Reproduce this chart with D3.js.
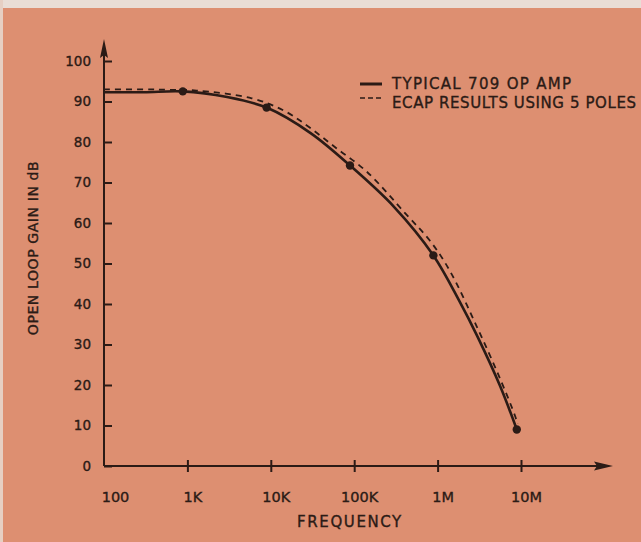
<!DOCTYPE html>
<html><head><meta charset="utf-8">
<script src="https://cdn.jsdelivr.net/npm/d3@7"></script>
<style>html,body{margin:0;padding:0;background:#dc8e70;}svg{display:block;}text{stroke:#2b1b16;stroke-width:0.35px;}</style>
</head><body>
<svg id="c" width="641" height="542"></svg>
<script>
// ---- data ----
const tickFreqs = [100, 1e3, 1e4, 1e5, 1e6, 1e7];
const tickLabels = ["100", "1K", "10K", "100K", "1M", "10M"];
const gainTicks = [0, 10, 20, 30, 40, 50, 60, 70, 80, 90, 100];

// Typical 709 op amp (solid)
const typicalFreq = [100, 300, 880, 3000, 8900, 30000, 89000, 300000, 890000, 1860000, 3000000, 5600000, 8900000];
const typicalGain = [92.3, 92.3, 92.5, 91.1, 88.5, 82.2, 74.2, 64.0, 52.0, 40.4, 32.0, 19.8, 9.0];

// ECAP results using 5 poles (dashed)
const ecapFreq = [100, 300, 600, 1290, 5900, 14800, 29500, 61700, 141000, 426000, 811000, 1410000, 2940000, 5600000, 8470000, 9080000];
const ecapGain = [93.0, 93.0, 92.9, 92.7, 90.8, 87.6, 83.5, 78.4, 72.7, 62.0, 55.6, 48.1, 34.5, 21.6, 12.4, 10.4];

// marked points on the typical curve
const dotFreq = [880, 8900, 89000, 890000, 8900000];
const dotGain = [92.5, 88.5, 74.2, 52.0, 9.0];

const legendLabels = ["TYPICAL 709 OP AMP", "ECAP RESULTS USING 5 POLES"];

// ---- drawing ----
const ink = "#2b1b16";
const font = "DejaVu Sans, sans-serif";
const svg = d3.select("#c");
svg.append("rect").attr("width", 641).attr("height", 542).attr("fill", "#dd8f71");
svg.append("rect").attr("width", 641).attr("height", 8).attr("fill", "#e9ddd5");
svg.append("rect").attr("width", 3).attr("height", 542).attr("fill", "#e6cfc3");

const x = d3.scaleLog().domain([100, 1e7]).range([104, 521]);
const y = d3.scaleLinear().domain([0, 100]).range([466, 61]);

// axes lines with arrows
svg.append("line").attr("x1", x(100)).attr("x2", 604).attr("y1", y(0)).attr("y2", y(0))
  .attr("stroke", ink).attr("stroke-width", 2);
svg.append("path").attr("d", `M613,${y(0)} L594,${y(0)-4.5} L597,${y(0)} L594,${y(0)+4.5} Z`).attr("fill", ink);
svg.append("line").attr("x1", x(100)).attr("x2", x(100)).attr("y1", y(0)).attr("y2", 50)
  .attr("stroke", ink).attr("stroke-width", 2);
svg.append("path").attr("d", `M${x(100)},39 L${x(100)-4},58 L${x(100)},55 L${x(100)+4},58 Z`).attr("fill", ink);

// y axis
const yAxis = d3.axisLeft(y).tickValues(gainTicks).tickSize(-8).tickPadding(13).tickFormat(d3.format("d"));
const gy = svg.append("g").attr("transform", `translate(${x(100)},0)`).call(yAxis);
gy.select(".domain").remove();
gy.selectAll("line").attr("stroke", ink).attr("stroke-width", 2);
gy.selectAll("text").attr("fill", ink).attr("font-family", font).attr("font-size", 13.5);

// x axis
const xAxis = d3.axisBottom(x).tickValues(tickFreqs).tickSize(6).tickPadding(20)
  .tickFormat((d, i) => tickLabels[i]);
const gx = svg.append("g").attr("transform", `translate(0,${y(0)})`).call(xAxis);
gx.select(".domain").remove();
gx.selectAll("line").attr("y1", -6).attr("stroke", ink).attr("stroke-width", 2);
gx.selectAll("text").attr("fill", ink).attr("font-family", font).attr("font-size", 14.5)
  .attr("dx", d => d === 100 ? 11 : 5);
gx.selectAll(".tick").filter(d => d === 100).select("line").remove();

// axis titles
svg.append("text").attr("x", 350).attr("y", 527).attr("text-anchor", "middle")
  .attr("font-family", font).attr("font-size", 15).attr("letter-spacing", 1.6).attr("fill", ink).text("FREQUENCY");
svg.append("text").attr("transform", "translate(38,248) rotate(-90)").attr("text-anchor", "middle")
  .attr("font-family", font).attr("font-size", 14).attr("letter-spacing", 0.6).attr("fill", ink).text("OPEN LOOP GAIN IN dB");

// curves
const line = d3.line().x(d => x(d[0])).y(d => y(d[1])).curve(d3.curveCatmullRom.alpha(0.5));
const typical = typicalFreq.map((f, i) => [f, typicalGain[i]]);
const ecap = ecapFreq.map((f, i) => [f, ecapGain[i]]);
svg.append("path").attr("d", line(ecap)).attr("fill", "none").attr("stroke", ink)
  .attr("stroke-width", 1.8).attr("stroke-dasharray", "6,5");
svg.append("path").attr("d", line(typical)).attr("fill", "none").attr("stroke", ink)
  .attr("stroke-width", 2.6);
svg.selectAll("circle.dot").data(dotFreq.map((f, i) => [f, dotGain[i]])).join("circle")
  .attr("class", "dot").attr("cx", d => x(d[0])).attr("cy", d => y(d[1])).attr("r", 4.2).attr("fill", ink);

// legend
const lg = svg.append("g");
lg.append("line").attr("x1", 360).attr("x2", 382).attr("y1", 84).attr("y2", 84).attr("stroke", ink).attr("stroke-width", 3);
lg.append("line").attr("x1", 360).attr("x2", 382).attr("y1", 98).attr("y2", 98).attr("stroke", ink).attr("stroke-width", 1.6).attr("stroke-dasharray", "5,3");
const legendWidths = [179, 244];
lg.selectAll("text").data(legendLabels).join("text")
  .attr("x", 392).attr("y", (d, i) => 88.5 + i * 19.5)
  .attr("textLength", (d, i) => legendWidths[i]).attr("lengthAdjust", "spacing")
  .attr("font-family", font).attr("font-size", 15).attr("fill", ink).text(d => d);
</script>
</body></html>
